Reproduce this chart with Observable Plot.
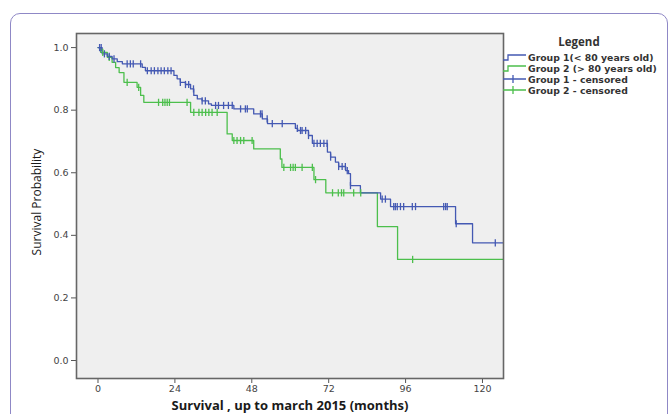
<!DOCTYPE html>
<html>
<head>
<meta charset="utf-8">
<script src="https://cdn.jsdelivr.net/npm/d3@7"></script>
<script src="https://cdn.jsdelivr.net/npm/@observablehq/plot@0.6"></script>
<style>
  html, body { margin: 0; padding: 0; background: #fff; }
  #wrap { position: relative; width: 671px; height: 414px; overflow: hidden; }
  #border { position: absolute; left: 10px; top: 13px; width: 658px; height: 440px;
            border: 1px solid #8f88c6; border-radius: 10px; box-sizing: border-box; }
  #chart { position: absolute; left: 0; top: 0; }
  .ytitle { position: absolute; left: 36px; top: 202px; transform: translate(-50%, -50%) rotate(-90deg);
            font-family: "Open Sans", sans-serif; font-size: 12px; color: #1a1a1a; white-space: nowrap; }
  .xtitle { position: absolute; left: 290px; top: 404.5px; transform: translate(-50%, -50%);
            font-family: "Open Sans", sans-serif; font-weight: 700; font-size: 13px; line-height: 13px; color: #1a1a1a; white-space: nowrap; }
  #legend { position: absolute; left: 0; top: 0; }
</style>
</head>
<body>
<div id="wrap">
  <div id="border"></div>
  <div id="chart"></div>
  <div class="ytitle">Survival Probability</div>
  <div class="xtitle">Survival , up to march 2015 (months)</div>
  <svg id="legend" width="671" height="414"></svg>
</div>
<script>
// ---- Data ----
const xTicks = [0, 24, 48, 72, 96, 120];
const yTicks = [0, 0.2, 0.4, 0.6, 0.8, 1.0];

// Group 1 (< 80 years old): step times (months) and survival after each step
const g1Times = [0, 1.3, 2.9, 4.4, 6.0, 7.6, 13.8, 14.8, 23.7, 24.7, 25.7, 27.3, 28.9, 29.9, 31.0, 32.5, 34.5, 35.4, 42.4, 48.6, 51.3, 52.9, 61.6, 62.3, 65.7, 66.9, 71.6, 72.6, 74.1, 75.1, 77.3, 78.2, 78.8, 81.9, 88.2, 91.3, 111.6, 116.9, 126.5];
const g1Surv  = [1.0, 0.980, 0.972, 0.964, 0.955, 0.948, 0.937, 0.926, 0.911, 0.900, 0.889, 0.882, 0.868, 0.847, 0.836, 0.830, 0.820, 0.815, 0.804, 0.788, 0.772, 0.757, 0.742, 0.735, 0.719, 0.694, 0.666, 0.650, 0.634, 0.620, 0.607, 0.597, 0.559, 0.536, 0.516, 0.492, 0.437, 0.376, 0.376];
const g1Censored = [0.5, 1.0, 2.0, 3.5, 5.0, 9.1, 10.1, 11.0, 13.3, 15.4, 16.6, 17.6, 18.7, 19.7, 20.7, 21.8, 22.8, 25.7, 27.3, 28.3, 29.8, 32.5, 33.5, 36.7, 37.6, 39.2, 40.7, 41.9, 44.5, 46.0, 46.6, 50.7, 51.2, 52.8, 54.4, 57.5, 62.2, 63.2, 63.7, 64.8, 65.7, 67.4, 68.4, 69.4, 70.5, 71.5, 72.6, 75.1, 76.2, 77.2, 77.8, 78.8, 88.7, 89.7, 92.3, 92.8, 93.4, 94.4, 95.4, 98.1, 99.1, 107.9, 108.5, 109.0, 111.8, 124.0];

// Group 2 (> 80 years old)
const g2Times = [0, 0.8, 2.9, 4.4, 5.5, 6.6, 8.1, 12.2, 13.3, 14.3, 28.9, 40.3, 41.9, 48.6, 56.9, 57.4, 67.4, 71.1, 87.2, 93.5, 126.5];
const g2Surv  = [1.0, 0.985, 0.969, 0.953, 0.936, 0.920, 0.889, 0.873, 0.847, 0.825, 0.793, 0.724, 0.703, 0.676, 0.644, 0.617, 0.578, 0.536, 0.428, 0.323, 0.323];
const g2Censored = [1.5, 3.5, 9.1, 12.7, 18.9, 20.2, 20.9, 21.6, 22.3, 27.8, 29.9, 31.5, 32.5, 33.6, 34.6, 35.6, 37.2, 42.4, 43.4, 44.5, 45.5, 48.1, 58.0, 60.1, 60.9, 61.6, 63.7, 66.9, 67.9, 73.2, 75.0, 76.0, 76.7, 79.8, 82.0, 98.2];

const legendLabels = ["Group 1(< 80 years old)", "Group 2 (> 80 years old)", "Group 1 - censored", "Group 2 - censored"];
const BLUE = "#4459b3", GREEN = "#4cbf4c";

// ---- Build tables ----
function curve(times, surv) { return times.map((t, i) => ({t, s: surv[i]})); }
function survAt(times, surv, t) {
  let s = surv[0];
  for (let i = 0; i < times.length; i++) if (times[i] <= t) s = surv[i];
  return s;
}
const c1 = curve(g1Times, g1Surv), c2 = curve(g2Times, g2Surv);
const cz1 = g1Censored.map(t => ({t, s: survAt(g1Times, g1Surv, t)}));
const cz2 = g2Censored.map(t => ({t, s: survAt(g2Times, g2Surv, t)}));

const vtick = { draw(ctx, size) { const r = Math.sqrt(size / Math.PI); ctx.moveTo(0, -r); ctx.lineTo(0, r); } };

const chart = Plot.plot({
  width: 671, height: 414,
  marginLeft: 76, marginRight: 168, marginTop: 33, marginBottom: 36,
  style: { fontFamily: "DejaVu Sans, sans-serif", fontSize: "9.5px", color: "#444", background: "transparent" },
  x: { domain: [-6.71, 126.56] },
  y: { domain: [-0.0575, 1.045] },
  marks: [
    Plot.frame({ fill: "#efefef", stroke: null }),
    Plot.line(c2, { x: "t", y: "s", curve: "step-after", stroke: GREEN, strokeWidth: 1.3 }),
    Plot.line(c1, { x: "t", y: "s", curve: "step-after", stroke: BLUE, strokeWidth: 1.3 }),
    Plot.dot(cz2, { x: "t", y: "s", symbol: vtick, r: 3.6, stroke: GREEN, strokeWidth: 1.3, fill: "none" }),
    Plot.dot(cz1, { x: "t", y: "s", symbol: vtick, r: 3.6, stroke: BLUE, strokeWidth: 1.3, fill: "none" }),
    Plot.axisY({ ticks: yTicks, tickFormat: d3.format(".1f"), tickSize: 5, tickPadding: 3, label: null, stroke: "#555" }),
    Plot.axisX({ ticks: xTicks, tickSize: 5, tickPadding: 2, label: null, stroke: "#555" }),
    Plot.frame({ stroke: "#666", strokeWidth: 1.6 })
  ]
});
document.getElementById("chart").appendChild(chart);

// ---- Legend ----
const lg = d3.select("#legend");
lg.append("text").attr("x", 579).attr("y", 46).attr("text-anchor", "middle")
  .attr("font-family", "Open Sans, sans-serif").attr("font-weight", 700).attr("font-size", 11.5).attr("fill", "#333")
  .text("Legend");
const rowsY = [57, 68, 79, 90];
const colors = [BLUE, GREEN, BLUE, GREEN];
rowsY.forEach((y, i) => {
  const c = colors[i];
  if (i < 2) {
    lg.append("path").attr("d", `M503,${y + 3} H508 V${y - 2} H526`).attr("fill", "none").attr("stroke", c).attr("stroke-width", 1.3);
  } else {
    lg.append("path").attr("d", `M503,${y} H526 M513,${y - 4} V${y + 4}`).attr("fill", "none").attr("stroke", c).attr("stroke-width", 1.3);
  }
  lg.append("text").attr("x", 528).attr("y", y + 3.5)
    .attr("font-family", "DejaVu Sans, sans-serif").attr("font-weight", 700).attr("font-size", 9.3).attr("fill", "#333")
    .text(legendLabels[i]);
});
</script>
</body>
</html>
